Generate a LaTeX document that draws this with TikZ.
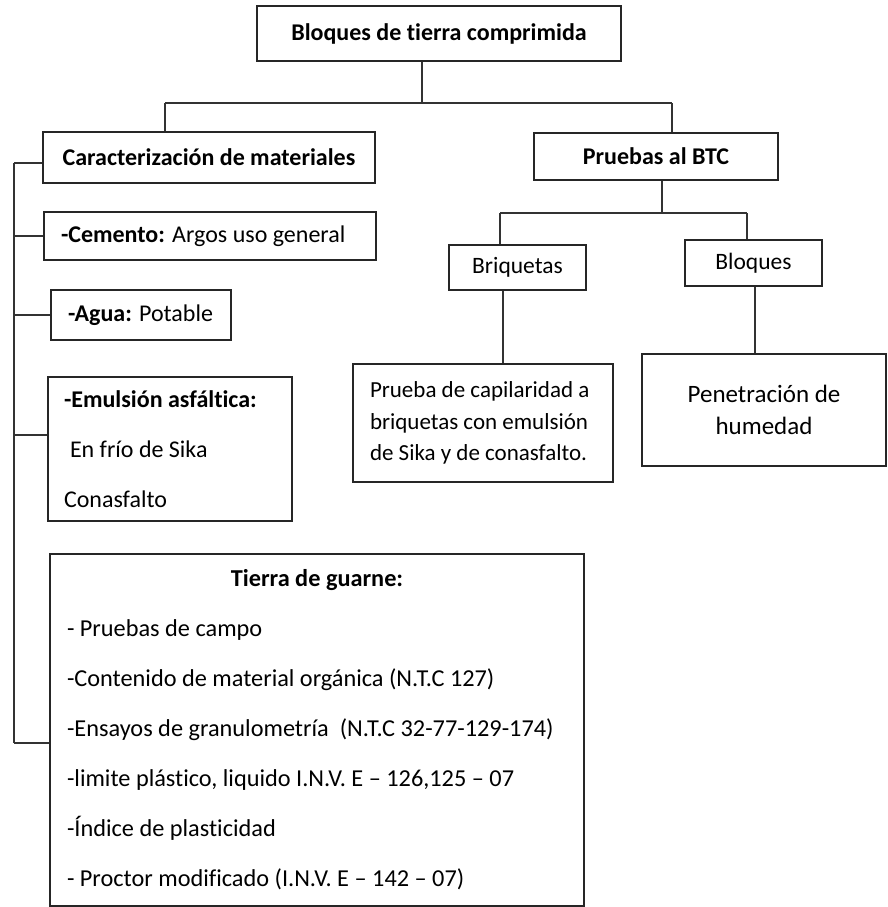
\documentclass[tikz,border=0pt]{standalone}
\usepackage{fontspec}
\setmainfont[Ligatures=NoCommon]{Carlito}
\tikzstyle{box}=[rectangle, draw=black!85, line width=1.3pt, inner sep=0pt, font=\fontsize{24}{28}\selectfont]
\tikzstyle{link}=[draw=black!80, line width=1.2pt]
\newcommand{\boxnode}{\node[box]}

\begin{document}
\begin{tikzpicture}[x=1pt, y=-1pt]
            \useasboundingbox (0,0) rectangle (887,907);
            % upper level
            \boxnode[minimum width=364pt, minimum height=55pt] (root) at (439,33.5) {\textbf{Bloques de tierra comprimida}};
            \boxnode[minimum width=332pt, minimum height=51pt] (carac) at (209,157.5) {\textbf{Caracterización de materiales}};
            \boxnode[minimum width=244pt, minimum height=47pt] (btc) at (656,156.5) {\textbf{Pruebas al BTC}};
            % materials
            \boxnode[minimum width=332pt, minimum height=48pt, text width=298pt, inner xsep=17pt, align=flush left] (cemento) at (210,236) {\textbf{-Cemento:} Argos uso general};
            \boxnode[minimum width=180pt, minimum height=50pt, text width=146pt, inner xsep=17pt, align=flush left] (agua) at (141,315) {\textbf{-Agua:} Potable};
            \boxnode[minimum width=244pt, minimum height=144pt, text width=212pt, inner xsep=16pt, align=flush left, font=\fontsize{24}{50}\selectfont] (emul) at (170,449)
                {\textbf{-Emulsión asfáltica:}\\ \hspace*{6pt}En frío de Sika\\ Conasfalto};
            \boxnode[minimum width=534pt, minimum height=352pt, text width=500pt, inner xsep=17pt, align=flush left, font=\fontsize{24.3}{50}\selectfont] (tierra) at (317,730)
                {\makebox[500pt]{\textbf{Tierra de guarne:}}\\
                 - Pruebas de campo\\
                 -Contenido de material orgánica (N.T.C 127)\\
                 -Ensayos de granulometría\ \ (N.T.C 32-77-129-174)\\
                 -limite plástico, liquido I.N.V. E – 126,125 – 07\\
                 -Índice de plasticidad\\
                 - Proctor modificado (I.N.V. E – 142 – 07)};
            % tests
            \boxnode[minimum width=137pt, minimum height=45pt, font=\fontsize{23.5}{27}\selectfont] (briq) at (517.5,267.5) {Briquetas};
            \boxnode[minimum width=137pt, minimum height=46pt, font=\fontsize{23.5}{27}\selectfont] (bloq) at (753.5,263) {Bloques};
            \boxnode[minimum width=260pt, minimum height=118pt, text width=226pt, inner xsep=17pt, align=flush left, font=\fontsize{23}{31.5}\selectfont] (capil) at (483,423)
                {Prueba de capilaridad a\\ briquetas con emulsión\\ de Sika y de conasfalto.};
            \boxnode[minimum width=244pt, minimum height=112pt, align=flush center, font=\fontsize{25}{32}\selectfont] (penet) at (764,410)
                {Penetración de\\ humedad};
            % junctions
            \coordinate (j1) at (422,103);
            \coordinate (jl) at (165,103);
            \coordinate (jr) at (672,103);
            \coordinate (j2) at (662,213);
            \coordinate (jb) at (500,213);
            \coordinate (jc) at (747,213);
            \coordinate (s1) at (14,163);
            \coordinate (s2) at (14,743);
            \path[link]
                (root.south -| j1) edge (j1)
                (carac.north -| jl) edge (jl)
                (jl) edge (jr)
                (jr) edge (btc.north -| jr)
                (btc.south -| j2) edge (j2)
                (jb) edge (jc)
                (jb) edge (briq.north -| jb)
                (jc) edge (bloq.north -| jc)
                (briq.south -| 503,0) edge (capil.north -| 503,0)
                (bloq.south -| 755,0) edge (penet.north -| 755,0)
                (s1) edge (s2)
                (s1) edge (carac.west |- s1)
                (cemento.west) edge (cemento.west -| s1)
                (agua.west) edge (agua.west -| s1)
                (emul.west |- 0,435) edge (s1 |- 0,435)
                (s2) edge (tierra.west |- s2)
            ;
        \end{tikzpicture}
\end{document}
